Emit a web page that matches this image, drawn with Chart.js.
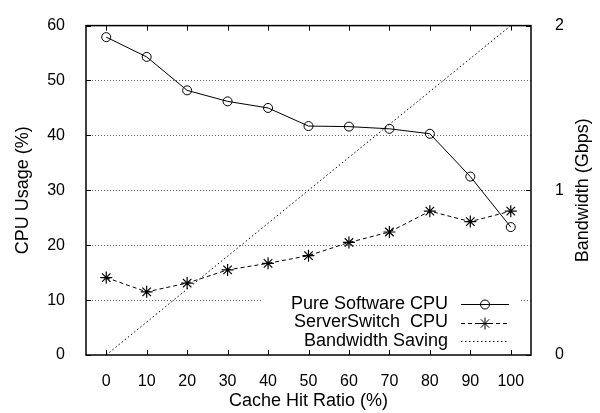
<!DOCTYPE html>
<html>
<head>
<meta charset="utf-8">
<script src="https://cdn.jsdelivr.net/npm/chart.js@4/dist/chart.umd.min.js"></script>
<style>
  html, body { margin: 0; padding: 0; background: #fff; }
  canvas { display: block; }
</style>
</head>
<body>
<canvas id="cpuChart" width="600" height="413"></canvas>
<script>
// cache hit ratio (%) on x
const hitRatios = [0, 10, 20, 30, 40, 50, 60, 70, 80, 90, 100];
const pureSoftwareCpu = [57.9, 54.3, 48.2, 46.2, 45.0, 41.7, 41.6, 41.2, 40.3, 32.5, 23.3];
const serverSwitchCpu = [14.1, 11.5, 13.1, 15.5, 16.7, 18.1, 20.5, 22.4, 26.2, 24.3, 26.2];
// bandwidth saving, Gbps (straight line end to end)
const savingRatios = [0, 100];
const bandwidthSaving = [0, 2];

const xTicks = [0, 10, 20, 30, 40, 50, 60, 70, 80, 90, 100];
const cpuTicks = [0, 10, 20, 30, 40, 50, 60];
const bwTicks = [0, 1, 2];
const legendLabels = ["Pure Software CPU", "ServerSwitch  CPU", "Bandwidth Saving"];
const bwTitle = "Bandwidth (Gbps)";

const FONT = '"Liberation Sans", Arial, Helvetica, sans-serif';
Chart.defaults.font.family = FONT;
Chart.defaults.color = "#000";

const toPoints = (xs, ys) => xs.map((x, i) => ({ x: x, y: ys[i] }));
const fixTicks = (list) => (scale) => { scale.ticks = list.map(v => ({ value: v })); };

// gnuplot style frame, dotted grid, inward ticks and key box
const gnuFrame = {
  id: "gnuFrame",
  beforeDatasetsDraw(chart) {
    const { ctx, chartArea: a, scales } = chart;
    const x = scales.x, y = scales.y, y2 = scales.y2;
    ctx.save();

    // dotted grid on left axis
    ctx.strokeStyle = "#666";
    ctx.lineWidth = 1;
    ctx.setLineDash([1, 2]);
    cpuTicks.slice(1, -1).forEach(v => {
      const py = Math.round(y.getPixelForValue(v)) + 0.5;
      ctx.beginPath();
      ctx.moveTo(a.left, py);
      ctx.lineTo(a.right, py);
      ctx.stroke();
    });
    ctx.setLineDash([]);

    // key box (opaque)
    const boxL = a.right - 269, boxT = a.bottom - 63;
    ctx.fillStyle = "#fff";
    ctx.fillRect(boxL, boxT, 258, a.bottom - boxT - 2);

    // frame
    ctx.strokeStyle = "#000";
    ctx.lineWidth = 1.5;
    ctx.strokeRect(a.left, a.top, a.right - a.left, a.bottom - a.top);

    // inward ticks
    const tl = 5;
    ctx.lineWidth = 1;
    ctx.beginPath();
    xTicks.forEach(v => {
      const px = Math.round(x.getPixelForValue(v)) + 0.5;
      ctx.moveTo(px, a.bottom); ctx.lineTo(px, a.bottom - tl);
      ctx.moveTo(px, a.top); ctx.lineTo(px, a.top + tl);
    });
    cpuTicks.forEach(v => {
      const py = Math.round(y.getPixelForValue(v)) + 0.5;
      ctx.moveTo(a.left, py); ctx.lineTo(a.left + tl, py);
    });
    bwTicks.forEach(v => {
      const py = Math.round(y2.getPixelForValue(v)) + 0.5;
      ctx.moveTo(a.right, py); ctx.lineTo(a.right - tl, py);
    });
    ctx.stroke();

    // key entries
    const textRight = a.right - 83;
    const sampleL = a.right - 70, sampleR = a.right - 22;
    const rows = [a.bottom - 51, a.bottom - 32.5, a.bottom - 14];
    const dashes = [[], [4, 3], [1.5, 2.5]];
    const markers = ["circle", "star", null];
    const radii = [4.5, 6, 0];
    ctx.font = "18px " + FONT;
    ctx.textAlign = "right";
    ctx.textBaseline = "middle";
    rows.forEach((ry, i) => {
      ctx.fillStyle = "#000";
      ctx.fillText(legendLabels[i], textRight, ry);
      const ly = Math.round(ry) + 0.5;
      ctx.setLineDash(dashes[i]);
      ctx.strokeStyle = "#000";
      ctx.lineWidth = 1;
      ctx.beginPath();
      ctx.moveTo(sampleL, ly);
      ctx.lineTo(sampleR, ly);
      ctx.stroke();
      ctx.setLineDash([]);
      if (markers[i]) {
        ctx.fillStyle = "rgba(0,0,0,0)";
        Chart.helpers.drawPoint(ctx, { pointStyle: markers[i], radius: radii[i], borderWidth: 1, rotation: 0 },
          (sampleL + sampleR) / 2, ly);
      }
    });

    // right axis title reads bottom to top, like the left one
    ctx.translate(chart.width - 16.5, (a.top + a.bottom) / 2);
    ctx.rotate(-Math.PI / 2);
    ctx.textAlign = "center";
    ctx.fillStyle = "#000";
    ctx.fillText(bwTitle, 0, 0);
    ctx.restore();
  }
};

new Chart(document.getElementById("cpuChart"), {
  type: "line",
  data: {
    datasets: [
      {
        label: legendLabels[0],
        data: toPoints(hitRatios, pureSoftwareCpu),
        yAxisID: "y",
        borderColor: "#000",
        borderWidth: 1,
        pointStyle: "circle",
        pointRadius: 4.5,
        pointBorderWidth: 1,
        pointBorderColor: "#000",
        pointBackgroundColor: "rgba(0,0,0,0)",
        tension: 0
      },
      {
        label: legendLabels[1],
        data: toPoints(hitRatios, serverSwitchCpu),
        yAxisID: "y",
        borderColor: "#000",
        borderWidth: 1,
        borderDash: [4, 3],
        pointStyle: "star",
        pointRadius: 6,
        pointBorderWidth: 1.2,
        pointBorderColor: "#000",
        pointBackgroundColor: "rgba(0,0,0,0)",
        tension: 0
      },
      {
        label: legendLabels[2],
        data: toPoints(savingRatios, bandwidthSaving),
        yAxisID: "y2",
        borderColor: "#000",
        borderWidth: 1,
        borderDash: [1.5, 2.5],
        pointRadius: 0,
        tension: 0
      }
    ]
  },
  options: {
    responsive: false,
    animation: false,
    layout: { padding: { top: 12, left: 0, right: 0, bottom: 0 } },
    plugins: {
      legend: { display: false },
      tooltip: { enabled: false }
    },
    scales: {
      x: {
        type: "linear",
        min: -5,
        max: 105,
        afterBuildTicks: fixTicks(xTicks),
        afterFit: (s) => { s.height = 58; },
        grid: { display: false },
        border: { display: false },
        ticks: { font: { size: 16 }, padding: 9, maxRotation: 0, autoSkip: false },
        title: { display: true, text: "Cache Hit Ratio (%)", font: { size: 18 }, padding: { top: 0, bottom: 1 } }
      },
      y: {
        position: "left",
        min: 0,
        max: 60,
        afterBuildTicks: fixTicks(cpuTicks),
        afterFit: (s) => { s.width = 86; },
        grid: { display: false },
        border: { display: false },
        ticks: { font: { size: 16 }, padding: 13 },
        title: { display: true, text: "CPU Usage (%)", font: { size: 18 }, padding: { top: 12, bottom: 0 } }
      },
      y2: {
        position: "right",
        min: 0,
        max: 2,
        afterBuildTicks: fixTicks(bwTicks),
        afterFit: (s) => { s.width = 69; },
        grid: { display: false },
        border: { display: false },
        ticks: { font: { size: 16 }, padding: 16 }
      }
    }
  },
  plugins: [gnuFrame]
});
</script>
</body>
</html>
